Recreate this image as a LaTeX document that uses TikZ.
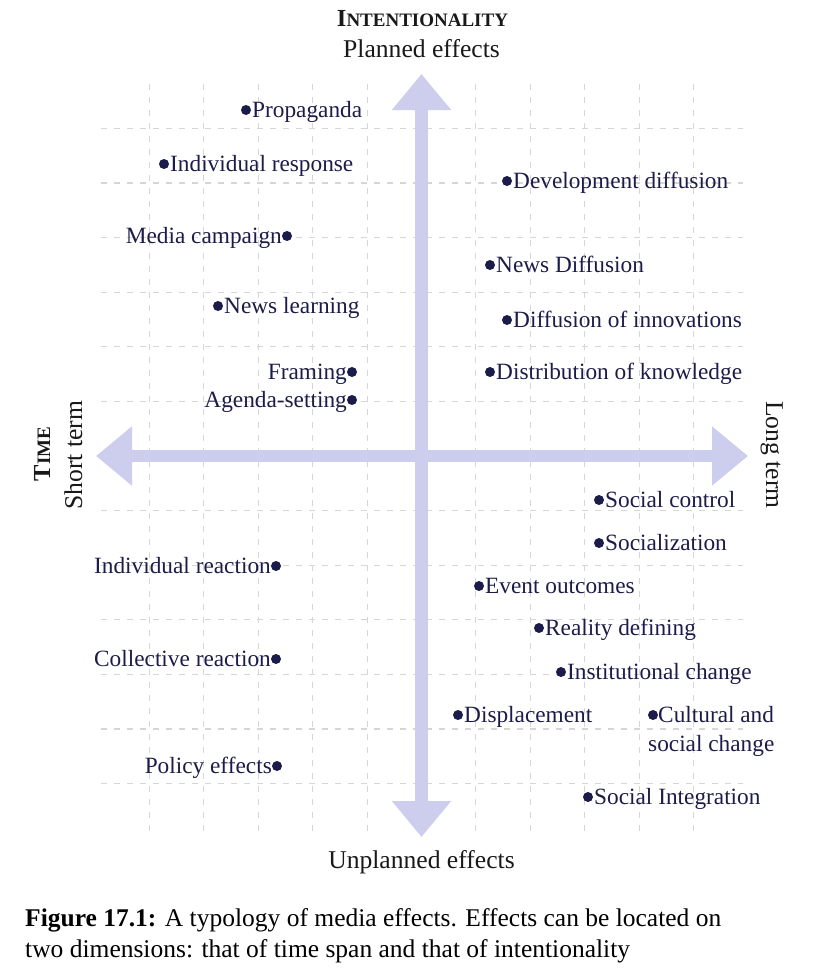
\documentclass[tikz,border=0pt]{standalone}
\usepackage{fontspec}
\setmainfont{Liberation Serif}
\usetikzlibrary{arrows.meta}
\definecolor{navy}{HTML}{1C1C4A}
\definecolor{lav}{HTML}{CDCDEE}
\definecolor{gridc}{HTML}{D6D6D6}
\tikzset{
  gridline/.style={draw=gridc, line width=1.1pt, dash pattern=on 6pt off 7pt},
  bigarrow/.style={draw=lav, line width=12.5pt, {Triangle[length=36pt,width=57pt]}-{Triangle[length=36pt,width=57pt]}},
  dotn/.style={circle, fill=navy, minimum size=10pt, inner sep=0pt},
  lblR/.style={anchor=base west, inner sep=0pt, text=navy, font=\fontsize{23.3}{28.5}\selectfont},
  lblL/.style={anchor=base east, inner sep=0pt, text=navy, font=\fontsize{23.3}{28.5}\selectfont},
  ttl/.style={anchor=base, inner sep=0pt, text=black!90, font=\fontsize{25.6}{30}\selectfont},
}
\begin{document}
\begin{tikzpicture}[x=1pt,y=-1pt]
\useasboundingbox[fill=white] (0,0) rectangle (826,974);
% grid
\foreach \k in {-5,...,5} \draw[gridline] (421.5+54.4*\k,84) -- (421.5+54.4*\k,832);
\foreach \k in {-6,...,6} \draw[gridline] (101,456+54.6*\k) -- (743,456+54.6*\k);
% axes
\coordinate (top) at (421.5,74);
\coordinate (bot) at (421.5,837);
\coordinate (lft) at (96,456);
\coordinate (rgt) at (748,456);
\draw[bigarrow] (bot) -- (top);
\draw[bigarrow] (lft) -- (rgt);
% titles
\node[ttl] (intent) at (422.5,27) {\bfseries\fontsize{24.5}{28}\selectfont I\fontsize{19}{22}\selectfont NTENTIONALITY};
\node[ttl] (planned) at (421.5,58) {Planned effects};
\node[ttl] (unplanned) at (421.5,868) {Unplanned effects};
\node[ttl, rotate=90] (time) at (50,454) {\bfseries\fontsize{24.5}{28}\selectfont T\fontsize{19}{22}\selectfont IME};
\node[ttl, rotate=90] (short) at (82,455) {Short term};
\node[ttl, rotate=-90] (long) at (766,455) {Long term};
% effects with label right of dot
\foreach \n/\x/\y/\t in {
  prop/246/110/Propaganda,
  indresp/164/164/Individual response,
  newslearn/218/306/News learning,
  devdiff/507/181/Development diffusion,
  newsdiff/490/265/News Diffusion,
  diffinn/507/320/Diffusion of innovations,
  distknow/490/372/Distribution of knowledge,
  socctrl/599/500/Social control,
  socialz/599/543/Socialization,
  event/479/586/Event outcomes,
  reality/539/628/Reality defining,
  instch/561/672/Institutional change,
  displ/458/715/Displacement,
  socint/588/797/Social Integration}
{
  \node[dotn] (d\n) at (\x,\y) {};
  \node[lblR] (\n) at (\x+6,\y+7) {\t};
}
% effects with label left of dot
\foreach \n/\x/\y/\t in {
  campaign/287/236/Media campaign,
  framing/352/372/Framing,
  agenda/352/400/Agenda-setting,
  indreact/276/566/Individual reaction,
  collreact/276/659/Collective reaction,
  policy/277/766/Policy effects}
{
  \node[dotn] (d\n) at (\x,\y) {};
  \node[lblL] (\n) at (\x-5,\y+7) {\t};
}
\node[dotn] (dcult) at (653,715) {};
\node[lblR, anchor=north west, align=left] (cult) at (648,706.5) {\hspace*{10pt}Cultural and\\social change};
% caption
\node[anchor=base west, inner sep=0pt, align=left, font=\fontsize{25.5}{31}\selectfont] (caption) at (25,957)
  {\textbf{Figure 17.1:} A typology of media effects. Effects can be located on\\two dimensions: that of time span and that of intentionality};
\end{tikzpicture}
\end{document}
